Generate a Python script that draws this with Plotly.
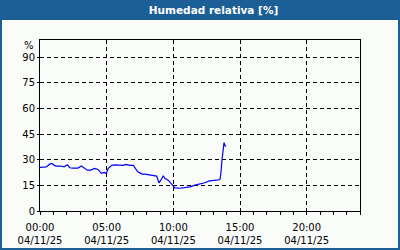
import plotly.graph_objects as go

times = ["00:00","00:13","00:28","00:44","00:54","01:03","01:13","01:33","01:48","02:03",
         "02:14","02:28","02:51","03:06","03:21","03:33","03:48","04:06","04:21","04:36",
         "04:48","04:58","05:07","05:23","05:37","06:00","06:15","06:27","06:45","07:00",
         "07:11","07:20","07:30","07:40","07:52","08:07","08:30","08:45","08:55","09:04",
         "09:15","09:22","09:37","09:51","10:00","10:07","10:30","10:52","11:15","11:37",
         "12:00","12:22","12:42","13:00","13:15","13:30","13:34","13:39","13:45","13:48",
         "13:52","13:55"]
humidity = [25.5,25.5,25.8,27.4,27.8,26.8,26.3,26.3,25.8,27.0,
            25.3,25.1,25.1,26.3,25.1,23.9,23.9,24.9,24.3,22.0,
            22.6,22.0,24.9,26.7,27.0,27.0,26.7,27.3,26.7,26.7,
            24.9,22.9,22.3,21.6,21.6,21.2,20.8,20.4,16.5,18.0,
            20.6,19.0,18.0,16.1,14.5,13.5,13.3,13.7,14.1,15.1,
            15.7,16.5,17.6,17.6,18.0,18.4,22.0,29.8,36.7,40.0,
            38.6,37.6]
date = "2025-11-04"
x_ticks = ["00:00","05:00","10:00","15:00","20:00"]
y_ticks = [0,15,30,45,60,75,90]
title = "Humedad relativa [%]"

xs = [f"{date} {t}" for t in times]
font = "DejaVu Sans"
blue = "#1c5e96"

fig = go.Figure()
fig.add_trace(go.Scatter(x=xs, y=humidity, mode="lines",
                         line=dict(color="#0000ff", width=1.2), showlegend=False))

fig.update_layout(
    width=400, height=250,
    margin=dict(l=40, r=40, t=40, b=39, autoexpand=False),
    paper_bgcolor="#fafcfa", plot_bgcolor="#fafcfa",
    font=dict(family=font, size=10, color="#000000"),
    title=dict(text=f"<b>{title}</b>", xref="container", yref="container",
               x=213.5/400, y=1 - 10.5/250, xanchor="center", yanchor="middle",
               font=dict(family=font, size=10.5, color="#ffffff")),
    xaxis=dict(
        type="date",
        range=[f"{date} 00:00", "2025-11-05 00:00"],
        tickvals=[f"{date} {t}" for t in x_ticks],
        ticktext=[f"{t}<br>04/11/25" for t in x_ticks],
        ticks="outside", ticklen=3, tickcolor="#000000", ticklabelstandoff=4,
        showline=True, linecolor="#000000", linewidth=1, mirror=True,
        showgrid=True, gridcolor="#000000", gridwidth=1, griddash="4px,3px",
        minor=dict(dtick=3600000, ticks="outside", ticklen=3, tickcolor="#000000", showgrid=False),
        zeroline=False, fixedrange=True, automargin=False,
    ),
    yaxis=dict(
        range=[0, 100],
        tickvals=y_ticks,
        ticks="outside", ticklen=2, tickcolor="#000000",
        showline=True, linecolor="#000000", linewidth=1, mirror=True,
        showgrid=True, gridcolor="#000000", gridwidth=1, griddash="4px,3px",
        zeroline=False, fixedrange=True, automargin=False,
    ),
    shapes=[
        dict(type="rect", xref="paper", yref="paper",
             x0=-0.2, x1=1.2, y0=1 + 20/171, y1=1.3,
             fillcolor=blue, line=dict(width=0), layer="below"),
        dict(type="rect", xref="paper", yref="paper",
             x0=-40/320, x1=1 + 40/320, y0=-39/171, y1=1 + 40/171,
             fillcolor="rgba(0,0,0,0)", line=dict(color=blue, width=4), layer="below"),
    ],
    annotations=[
        dict(text="%", xref="paper", yref="paper",
             x=(36 - 40)/320, y=1 - (45.5 - 40)/171, xanchor="right", yanchor="middle",
             showarrow=False, font=dict(family=font, size=10, color="#000000")),
    ],
)

fig.write_html("out.html")
